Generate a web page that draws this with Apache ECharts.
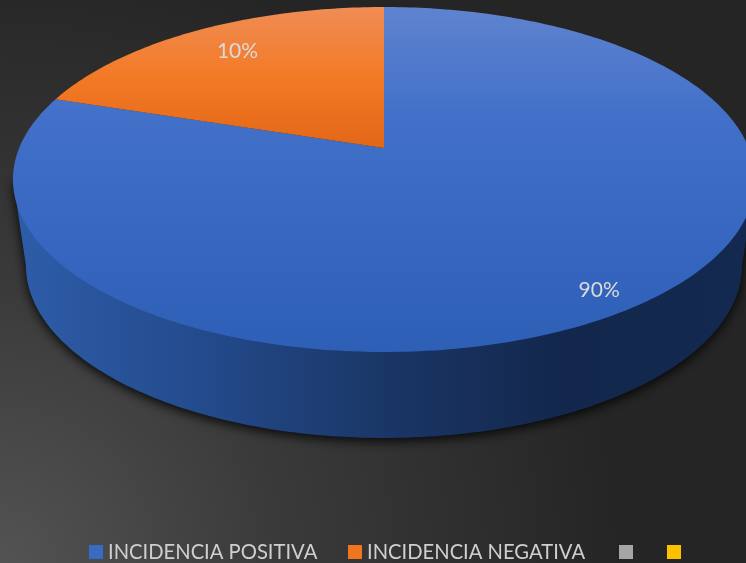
<!DOCTYPE html>
<html><head><meta charset="utf-8">
<style>html,body{margin:0;padding:0;background:#262626}#c{width:746px;height:563px}</style>
<script src="https://cdn.jsdelivr.net/npm/echarts@6/dist/echarts.min.js"></script>
</head><body><div id="c"></div>
<script>
// Data: slice sizes as drawn, and the labels as printed.
const categories = ['INCIDENCIA POSITIVA', 'INCIDENCIA NEGATIVA', ' ', '  '];
const sliceValues = [80, 20, 0, 0];
const sliceLabels = ['90%', '10%', '', ''];
const sliceColors = ['#3a6bc4', '#f0751f', '#a5a5a5', '#ffc000'];

const labelRadius = [0.896, 0.788, 0, 0];
const LABEL_TURN = 0.022;
const legendLeft = [84, 343, 614, 662];
const total = sliceValues.reduce((a, b) => a + b, 0);

// Perspective projection of a unit disc on to the page.
const P = {cx: 384, A: 364.8, a: 139.7, b: 148, c: -0.1826};
function project(theta, r) {
  const x = r * Math.sin(theta), y = -r * Math.cos(theta);
  const d = 1 + P.c * y;
  return [P.cx + P.A * x / d, (P.a * y + P.b) / d];
}
const WALL_DEPTH = 86, WALL_SCALE = 0.965;
function lower(p) { return [P.cx + (p[0] - P.cx) * WALL_SCALE, p[1] + WALL_DEPTH]; }
const LG = echarts.graphic.LinearGradient;
const faceFill = [
  new LG(0, 7, 0, 352, [{offset:0,color:'#5f83cf'},{offset:0.3,color:'#4371c9'},{offset:0.65,color:'#3767c0'},{offset:1,color:'#2e5fb7'}], true),
  new LG(0, 7, 0, 148, [{offset:0,color:'#f08c55'},{offset:0.5,color:'#f37a25'},{offset:1,color:'#e26717'}], true)
];
const wallFill = new LG(14, 0, 746, 0, [{offset:0,color:'#2e5da9'},{offset:0.25,color:'#244b8d'},{offset:0.51,color:'#1a3666'},{offset:0.75,color:'#13274c'},{offset:1,color:'#13294f'}], true);

function renderSlice(params, api) {
  const i = params.seriesIndex, v = api.value(0);
  if (!v) return null;
  const start = sliceValues.slice(0, i).reduce((a, b) => a + b, 0) / total * 2 * Math.PI;
  const end = start + v / total * 2 * Math.PI;
  const children = [];
  if (i === 0) {
    const th0 = Math.acos(P.c), th1 = 2 * Math.PI - th0;
    const wall = [project(th0, 1)];
    for (let k = 0; k <= 160; k++) wall.push(lower(project(th0 + (th1 - th0) * k / 160, 1)));
    wall.push(project(th1, 1));
    children.push({type: 'polygon', shape: {points: wall},
      style: {fill: wallFill, shadowBlur: 12, shadowColor: 'rgba(0,0,0,0.9)', shadowOffsetY: 3}});
  }
  const pts = [project(0, 0)];
  const n = Math.max(2, Math.ceil((end - start) * 60));
  for (let k = 0; k <= n; k++) pts.push(project(start + (end - start) * k / n, 1));
  children.push({type: 'polygon', shape: {points: pts}, style: {fill: faceFill[i]}});
  const lp = project((start + end) / 2 + LABEL_TURN, labelRadius[i]);
  children.push({type: 'text', x: lp[0], y: lp[1], z2: 10,
    style: {text: sliceLabels[i], fill: '#dadada', font: '21px Lato', align: 'center', verticalAlign: 'middle'}});
  return {type: 'group', children};
}

const chart = echarts.init(document.getElementById('c'), null, {renderer: 'canvas'});
chart.setOption({
  animation: false,
  backgroundColor: new echarts.graphic.RadialGradient(0, 563, 620,
    [{offset:0,color:'#535353'},{offset:0.45,color:'#3a3a3a'},{offset:1,color:'#252525'}], true),
  legend: categories.map((name, i) => ({
    left: legendLeft[i], top: 537, itemWidth: 14, itemHeight: 14, icon: 'rect', selectedMode: false,
    data: [name],
    textStyle: {color: '#cfcfcf', fontFamily: 'Lato', fontSize: 20.2}
  })),
  series: categories.map((name, i) => ({
    type: 'custom', name, coordinateSystem: 'none', silent: true, z: 2 + (i === 0 ? 0 : 1),
    itemStyle: {color: sliceColors[i]},
    renderItem: renderSlice,
    data: [[sliceValues[i]]]
  }))
});
</script></body></html>
